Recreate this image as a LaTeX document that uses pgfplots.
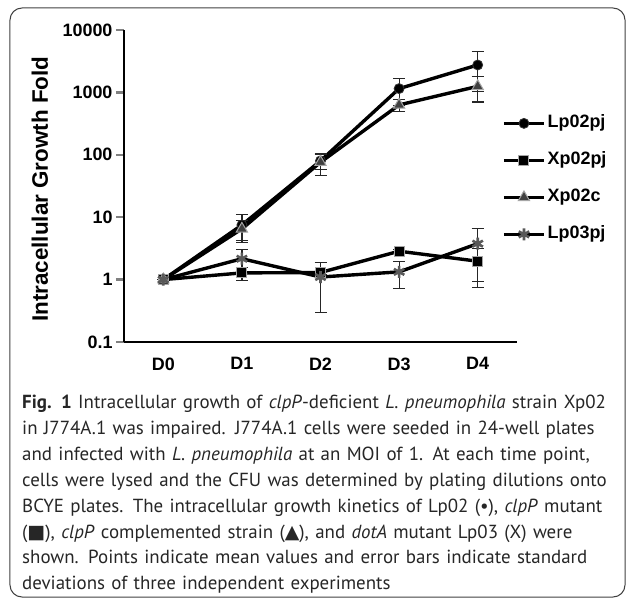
\documentclass[border=0pt]{standalone}
\usepackage{fontspec}
\setmainfont{Liberation Sans}
\newfontfamily\capfont{PT Sans}
\newfontfamily\symfont{DejaVu Sans}
\usepackage{pgfplots}
\pgfplotsset{compat=1.18}

\begin{document}
\begin{tikzpicture}[x=1bp,y=1bp]
\useasboundingbox (-124,-257) rectangle (503,342);
\draw[line width=1bp, rounded corners=12bp, black!75] (-114,-255) rectangle (501,334);
\begin{axis}[
    at={(0,0)}, anchor=south west,
    scale only axis,
    width=393bp, height=312bp,
    xmin=-0.5, xmax=4.5,
    ymode=log, ymin=0.1, ymax=10000,
    axis x line*=bottom, axis y line*=left,
    axis line style={line width=2.5bp},
    xtick={0,1,2,3,4},
    xticklabels={D0,D1,D2,D3,D4},
    xtick style={draw=none},
    ytick={0.1,1,10,100,1000,10000},
    yticklabels={0.1,1,10,100,1000,10000},
    yminorticks=false,
    ytick style={line width=2.5bp},
    major tick length=8bp,
    tick align=outside,
    tick label style={font=\bfseries\fontsize{18}{18}\selectfont},
    xticklabel style={yshift=-4bp},
    ylabel={Intracellular Growth Fold},
    ylabel style={at={(axis description cs:-0.214,0.49)}, anchor=center,
        font=\bfseries\fontsize{22.5}{22.5}\selectfont},
    legend style={at={(axis description cs:0.962,0.735)}, anchor=north west,
        draw=none, fill=none, font=\bfseries\fontsize{18}{18}\selectfont,
        row sep=16bp, inner sep=0pt,
        nodes={inner sep=2bp, text height=13bp, text depth=4bp}},
    legend cell align=left,
    legend image code/.code={\draw[mark repeat=2,mark phase=2] plot coordinates {(0bp,0bp) (20bp,0bp) (40bp,0bp)};},
    every axis plot/.append style={line width=3.4bp, black},
    error bars/y dir=both, error bars/y explicit,
    error bars/error bar style={line width=1.2bp, black!85},
    error bars/error mark options={rotate=90, mark size=6bp, line width=1.2bp, black!85},
]

% Lp02pj
\addplot[mark=*, mark size=5bp, mark options={solid, fill=black, draw=black!80, line width=0.8bp}]
  table[x=x, y=y, y error=e] {
x y e
0 1 0
1 7.5 3.6
2 80 22
3 1150 530
4 2750 1720
};

% Xp02pj
\addplot[mark=square*, mark size=5bp, mark options={solid, fill=black, draw=gray!70, line width=1bp}]
  table[x=x, y=y, y error=e] {
x y e
0 1 0
1 1.28 0.3
2 1.3 0.1
3 2.85 0.2
4 1.97 1.22
};

% Xp02c
\addplot[mark=triangle*, mark size=6.5bp, mark options={solid, fill=black!75, draw=gray!70, line width=1bp}]
  table[x=x, y=y, y error=e] {
x y e
0 1 0
1 6.5 2.3
2 76 30
3 630 140
4 1250 550
};

% Lp03pj
\addplot[mark=asterisk, mark size=6bp, mark options={solid, draw=black!65, line width=2.6bp}]
  table[x=x, y=y, y error=e] {
x y e
0 1 0
1 2.16 0.9
2 1.1 0.8
3 1.33 0.62
4 3.77 2.85
};

\legend{Lp02pj, Xp02pj, Xp02c, Lp03pj}
\end{axis}

\node[anchor=base west, inner sep=0pt, text width=610bp, align=left, text=black!85,
      font=\capfont\fontsize{19}{25.9}\selectfont] at (-102,-67) {%
\textbf{Fig. 1} Intracellular growth of \textit{clpP}-deficient \textit{L. pneumophila} strain Xp02\\
in J774A.1 was impaired. J774A.1 cells were seeded in 24-well plates\\
and infected with \textit{L. pneumophila} at an MOI of 1. At each time point,\\
cells were lysed and the CFU was determined by plating dilutions onto\\
BCYE plates. The intracellular growth kinetics of Lp02 (•), \textit{clpP} mutant\\
({\symfont ■}), \textit{clpP} complemented strain ({\symfont ▲}), and \textit{dotA} mutant Lp03 (X) were\\
shown. Points indicate mean values and error bars indicate standard\\
deviations of three independent experiments};
\end{tikzpicture}
\end{document}
